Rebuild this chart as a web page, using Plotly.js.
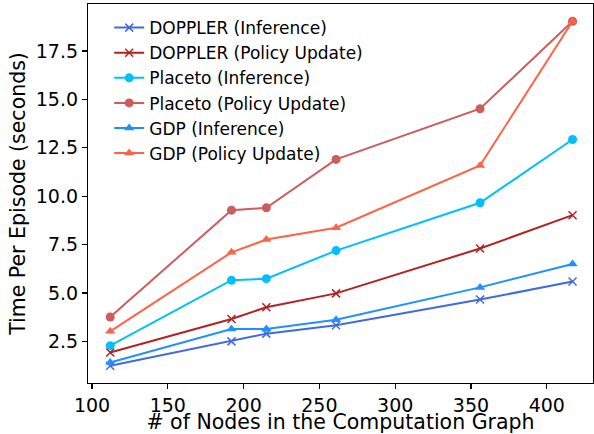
<!DOCTYPE html>
<html>
<head>
<meta charset="utf-8">
<script src="https://cdn.plot.ly/plotly-3.0.1.min.js"></script>
<style>html,body{margin:0;padding:0;background:#fff;}#chart{width:594px;height:434px;}</style>
</head>
<body>
<div id="chart"></div>
<script>
const nodes = [112, 192, 215, 261, 356, 417];
const dopplerInference = [1.24, 2.50, 2.90, 3.33, 4.66, 5.59];
const dopplerPolicy = [1.93, 3.66, 4.26, 4.98, 7.30, 9.02];
const placetoInference = [2.28, 5.66, 5.74, 7.19, 9.66, 12.93];
const placetoPolicy = [3.76, 9.28, 9.40, 11.90, 14.52, 19.04];
const gdpInference = [1.41, 3.14, 3.14, 3.62, 5.29, 6.50];
const gdpPolicy = [3.02, 7.10, 7.76, 8.37, 11.59, 19.04];
const seriesNames = ["DOPPLER (Inference)", "DOPPLER (Policy Update)", "Placeto (Inference)", "Placeto (Policy Update)", "GDP (Inference)", "GDP (Policy Update)"];
const xTicks = [100, 150, 200, 250, 300, 350, 400];
const yTicks = [2.5, 5.0, 7.5, 10.0, 12.5, 15.0, 17.5];

const seriesValues = [dopplerInference, dopplerPolicy, placetoInference, placetoPolicy, gdpInference, gdpPolicy];
const colors = ["#4169E1", "#B22222", "#00BFFF", "#CD5C5C", "#1E90FF", "#FF6347"];
const symbols = ["x-thin", "x-thin", "circle", "circle", "triangle-up", "triangle-up"];
const sizes = [8, 8, 9, 9, 9, 9];

const traces = seriesValues.map((vals, i) => ({
  x: nodes, y: vals, name: seriesNames[i], type: "scatter", mode: "lines+markers",
  legendgroup: "g" + i,
  line: {color: colors[i], width: 2},
  marker: {symbol: symbols[i], size: sizes[i], color: colors[i], line: {color: colors[i], width: symbols[i] === "x-thin" ? 1.5 : 0}}
}));

const layout = {
  width: 594, height: 434,
  margin: {l: 88, r: 1, t: 4, b: 51, pad: 0},
  paper_bgcolor: "#fff", plot_bgcolor: "#fff",
  font: {family: "DejaVu Sans", color: "#000", size: 17},
  showlegend: true,
  legend: {x: 0.042, y: 0.984, xanchor: "left", yanchor: "top", bgcolor: "rgba(255,255,255,0)", borderwidth: 0,
           font: {size: 17, family: "DejaVu Sans"}, tracegroupgap: 0},
  xaxis: {range: [97.36, 430.5], tickvals: xTicks, ticktext: xTicks.map(String), ticks: "outside", ticklen: 5, tickwidth: 1.1,
          tickcolor: "#000", showline: true, linecolor: "#000", linewidth: 1.1, mirror: true, showgrid: false, zeroline: false,
          tickfont: {size: 19}, title: {text: "# of Nodes in the Computation Graph", font: {size: 20.5}, standoff: 8}},
  yaxis: {range: [0.35, 19.93], tickvals: yTicks, ticktext: yTicks.map(v => v.toFixed(1)), ticks: "outside", ticklen: 5, tickwidth: 1.1,
          tickcolor: "#000", showline: true, linecolor: "#000", linewidth: 1.1, mirror: true, showgrid: false, zeroline: false,
          tickfont: {size: 19}, title: {text: "Time Per Episode (seconds)", font: {size: 20.5}, standoff: 4}}
};

Plotly.newPlot("chart", traces, layout, {displayModeBar: false, staticPlot: true});
</script>
</body>
</html>
